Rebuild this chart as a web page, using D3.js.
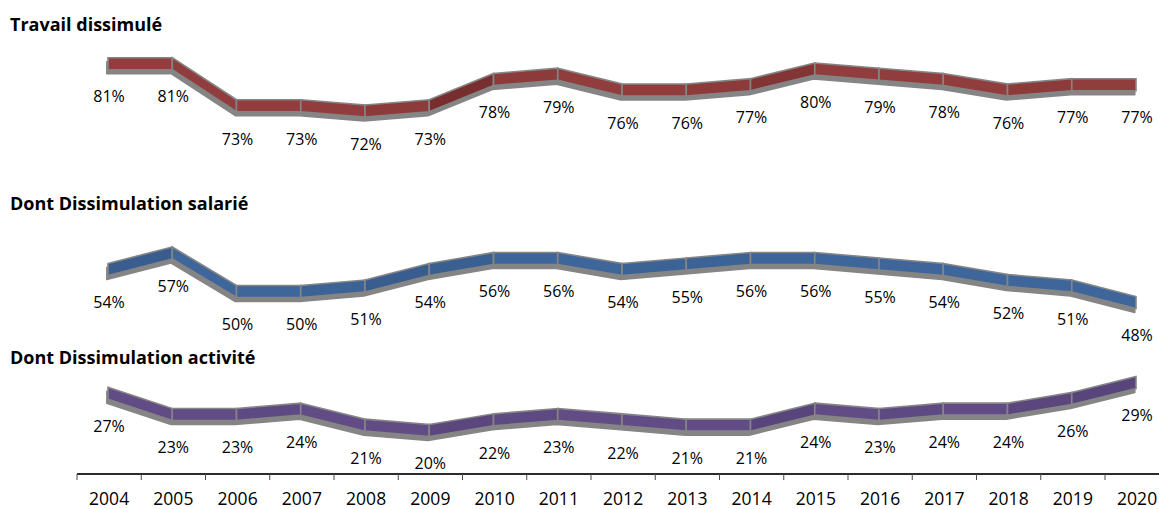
<!DOCTYPE html>
<html>
<head>
<meta charset="utf-8">
<script src="https://cdn.jsdelivr.net/npm/d3@7/dist/d3.min.js"></script>
<style>
  html, body { margin: 0; padding: 0; background: #ffffff; }
  svg { display: block; }
  text { font-variant-ligatures: none; }
</style>
</head>
<body>
<svg id="chart" width="1159" height="509"></svg>
<script>
// Years on the shared horizontal axis
const years = [2004, 2005, 2006, 2007, 2008, 2009, 2010, 2011, 2012,
               2013, 2014, 2015, 2016, 2017, 2018, 2019, 2020];

// Share (%) for each series
const travailDissimule = [81, 81, 73, 73, 72, 73, 78, 79, 76, 76, 77, 80, 79, 78, 76, 77, 77];
const dissimulationSalarie = [54, 57, 50, 50, 51, 54, 56, 56, 54, 55, 56, 56, 55, 54, 52, 51, 48];
const dissimulationActivite = [27, 23, 23, 24, 21, 20, 22, 23, 22, 21, 21, 24, 23, 24, 24, 26, 29];

const seriesTitles = ["Travail dissimulé", "Dont Dissimulation salarié", "Dont Dissimulation activité"];

const svg = d3.select("#chart");
const W = 1159, H = 509;

const FONT = "'Open Sans', 'Liberation Sans', sans-serif";
const GRAY = "#858585";

// Point positions of the categories
const x = d3.scalePoint().domain(years).range([108, 1136]);
// Category slots for the axis (ticks sit between categories)
const band = d3.scaleBand().domain(years).range([77, 77 + 17 * 64.25]).padding(0);

// Each series gets its own horizontal strip
const panels = [
  { title: seriesTitles[0], values: travailDissimule, titleY: 31,
    y: d3.scaleLinear().domain([72, 81]).range([111.0, 63.7]),
    color: "#923d3d", dark: "#6a2626" },
  { title: seriesTitles[1], values: dissimulationSalarie, titleY: 210,
    y: d3.scaleLinear().domain([48, 57]).range([302.5, 253.0]),
    color: "#3e669a", dark: "#2e4f7c" },
  { title: seriesTitles[2], values: dissimulationActivite, titleY: 364,
    y: d3.scaleLinear().domain([20, 29]).range([430.5, 382.5]),
    color: "#614c85", dark: "#4b3a6b" }
];

const HALF = 6;          // half height of the ribbon face
const DEPTH = { dx: -1.2, dy: 4.0 };  // offset of the ribbon's underside
const LABEL_DY = 33;     // value labels sit below each point

panels.forEach(p => {
  const pts = p.values.map((v, i) => [x(years[i]), p.y(v)]);
  const g = svg.append("g");

  // Series title
  svg.append("text")
    .attr("x", 10).attr("y", p.titleY)
    .attr("font-family", FONT).attr("font-weight", 700)
    .attr("font-size", 18).attr("fill", "#000")
    .text(p.title);

  // Underside of the ribbon (grey band, shifted)
  const under = [];
  pts.forEach(([px, py]) => under.push([px + DEPTH.dx, py - HALF + DEPTH.dy]));
  for (let i = pts.length - 1; i >= 0; i--) under.push([pts[i][0] + DEPTH.dx, pts[i][1] + HALF + DEPTH.dy]);
  g.append("path")
    .attr("d", d3.line()(under) + "Z")
    .attr("fill", GRAY).attr("stroke", GRAY).attr("stroke-width", 1.5)
    .attr("stroke-linejoin", "round");

  // Front face, one panel per segment, shaded by slope
  for (let i = 0; i < pts.length - 1; i++) {
    const [x0, y0] = pts[i], [x1, y1] = pts[i + 1];
    const slope = (y1 - y0) / (x1 - x0);
    const t = Math.max(0, Math.min(1, -slope / 0.55));
    const fill = d3.interpolateLab(p.color, p.dark)(t * 0.85);
    const poly = [[x0, y0 - HALF], [x1, y1 - HALF], [x1, y1 + HALF], [x0, y0 + HALF]];
    g.append("path")
      .attr("d", d3.line()(poly) + "Z")
      .attr("fill", fill)
      .attr("stroke", GRAY).attr("stroke-width", 1.6)
      .attr("stroke-linejoin", "miter");
  }

  // Value labels
  svg.append("g").selectAll("text")
    .data(p.values)
    .join("text")
    .attr("x", (d, i) => x(years[i]) + 1)
    .attr("y", d => p.y(d) + LABEL_DY)
    .attr("dy", "0.36em")
    .attr("text-anchor", "middle")
    .attr("font-family", FONT).attr("font-size", 16).attr("fill", "#000")
    .text(d => d + "%");
});

// Category axis
const axisY = 474;
svg.append("line")
  .attr("x1", band.range()[0]).attr("x2", W)
  .attr("y1", axisY).attr("y2", axisY)
  .attr("stroke", "#2b2b2b").attr("stroke-width", 2);

svg.append("g").selectAll("line")
  .data(years)
  .join("line")
  .attr("x1", d => band(d)).attr("x2", d => band(d))
  .attr("y1", axisY).attr("y2", axisY + 6)
  .attr("stroke", "#4a4a4a").attr("stroke-width", 1);

const axis = d3.axisBottom(band).tickSize(0).tickPadding(0);
const ax = svg.append("g").attr("transform", `translate(0,${axisY})`).call(axis);
ax.select(".domain").remove();
ax.selectAll("text")
  .attr("y", 31).attr("dy", 0)
  .attr("font-family", FONT).attr("font-size", 17.5).attr("fill", "#000");
</script>
</body>
</html>
